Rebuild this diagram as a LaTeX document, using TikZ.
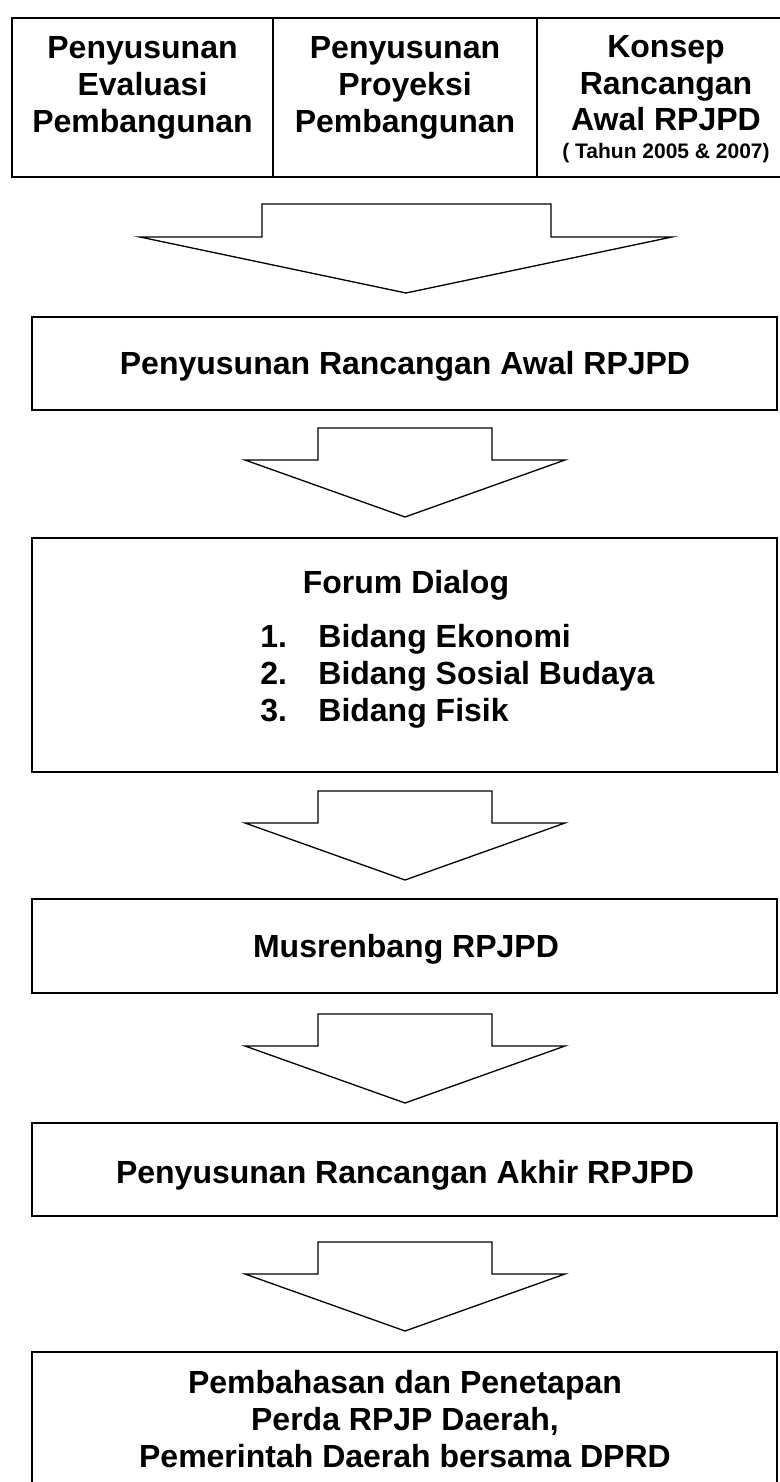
\documentclass[tikz,border=0pt]{standalone}
\usepackage{fontspec}
\setmainfont{Liberation Sans}
\usetikzlibrary{fit}
\tikzset{
  box/.style={draw=black, line width=0.9pt, inner sep=0pt, fill=none},
  divider/.style={draw=black, line width=0.9pt},
  txt/.style={font=\fontsize{16}{18.5}\selectfont\bfseries, anchor=base, inner sep=0pt},
  smalltxt/.style={font=\fontsize{10.5}{12}\selectfont\bfseries, anchor=base, inner sep=0pt},
  arr/.style={draw=black, line width=0.65pt, line join=miter, fill=white},
  smallarrow/.pic={\draw[arr] (-87,0) -- (87,0) -- (87,32) -- (160,32) -- (0,89) -- (-160,32) -- (-87,32) -- cycle;},
  bigarrow/.pic={\draw[arr] (-144,0) -- (145,0) -- (145,33) -- (266,33) -- (0,89) -- (-266,33) -- (-144,33) -- cycle;}
}
\begin{document}
\begin{tikzpicture}[x=0.5pt,y=-0.5pt]
\useasboundingbox (0,0) rectangle (780,1482);
\clip (0,0) rectangle (780,1482);
\fill[white] (0,0) rectangle (780,1482);

% top box with three columns
\coordinate (t0nw) at (12,18); \coordinate (t0se) at (795,177);
\node[box, fit=(t0nw)(t0se)] (top) {};
\coordinate (d1a) at (273,18); \coordinate (d1b) at (273,177);
\coordinate (d2a) at (537,18); \coordinate (d2b) at (537,177);
\draw[divider] (d1a) -- (d1b);
\draw[divider] (d2a) -- (d2b);

\node[txt] (c1a) at (142.5,59) {Penyusunan};
\node[txt] (c1b) at (142.5,96) {Evaluasi};
\node[txt] (c1c) at (142.5,133) {Pembangunan};
\node[txt] (c2a) at (405,59) {Penyusunan};
\node[txt] (c2b) at (405,96) {Proyeksi};
\node[txt] (c2c) at (405,133) {Pembangunan};
\node[txt] (c3a) at (666,58) {Konsep};
\node[txt] (c3b) at (666,95) {Rancangan};
\node[txt] (c3c) at (666,131) {Awal RPJPD};
\node[smalltxt] (c3d) at (666,159) {( Tahun 2005 \& 2007)};

\pic at (406,204) {bigarrow};

% box 2
\coordinate (b2nw) at (32,317); \coordinate (b2se) at (777,410);
\node[box, fit=(b2nw)(b2se)] (b2) {};
\node[txt] (b2t) at (405,374) {Penyusunan Rancangan Awal RPJPD};

\pic at (405,428) {smallarrow};

% box 3
\coordinate (b3nw) at (32,538); \coordinate (b3se) at (777,772);
\node[box, fit=(b3nw)(b3se)] (b3) {};
\node[txt] (b3t) at (406,593) {Forum Dialog};
\node[txt, anchor=base west] (n1) at (260,647) {1.};
\node[txt, anchor=base west] (l1) at (318,647) {Bidang Ekonomi};
\node[txt, anchor=base west] (n2) at (260,684) {2.};
\node[txt, anchor=base west] (l2) at (318,684) {Bidang Sosial Budaya};
\node[txt, anchor=base west] (n3) at (260,721) {3.};
\node[txt, anchor=base west] (l3) at (318,721) {Bidang Fisik};

\pic at (405,791) {smallarrow};

% box 4
\coordinate (b4nw) at (32,899); \coordinate (b4se) at (777,993);
\node[box, fit=(b4nw)(b4se)] (b4) {};
\node[txt] (b4t) at (406,957) {Musrenbang RPJPD};

\pic at (405,1014) {smallarrow};

% box 5
\coordinate (b5nw) at (32,1123); \coordinate (b5se) at (777,1216);
\node[box, fit=(b5nw)(b5se)] (b5) {};
\node[txt] (b5t) at (405,1183) {Penyusunan Rancangan Akhir RPJPD};

\pic at (405,1242) {smallarrow};

% box 6
\coordinate (b6nw) at (32,1352); \coordinate (b6se) at (777,1500);
\node[box, fit=(b6nw)(b6se)] (b6) {};
\node[txt] (b6a) at (405,1393) {Pembahasan dan Penetapan};
\node[txt] (b6b) at (405,1430) {Perda RPJP Daerah,};
\node[txt] (b6c) at (405,1467) {Pemerintah Daerah bersama DPRD};
\end{tikzpicture}
\end{document}
